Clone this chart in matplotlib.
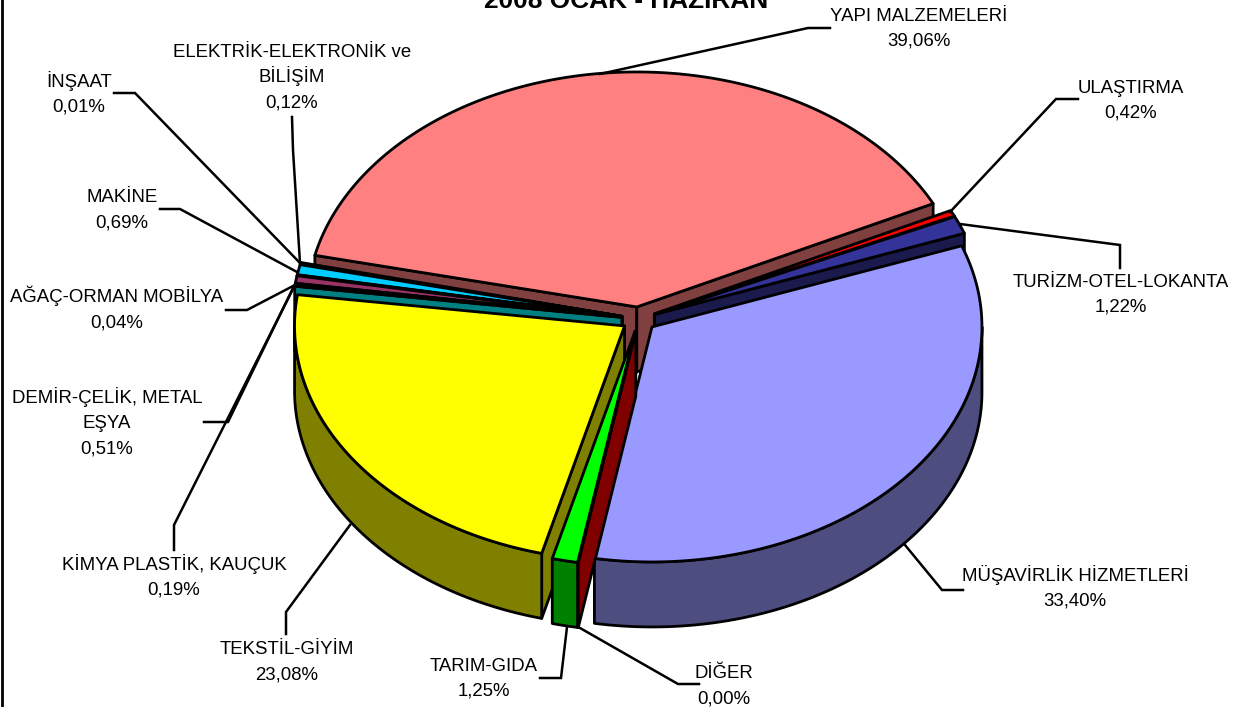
import numpy as np
import matplotlib
matplotlib.use("Agg")
import matplotlib.pyplot as plt
from matplotlib.patches import Polygon

plt.rcParams['font.family'] = ['Liberation Sans', 'DejaVu Sans']

# ---- data -------------------------------------------------------------
title = "2008 OCAK - HAZİRAN"
sectors = ["YAPI MALZEMELERİ", "ULAŞTIRMA", "TURİZM-OTEL-LOKANTA", "MÜŞAVİRLİK HİZMETLERİ",
           "DİĞER", "TARIM-GIDA", "TEKSTİL-GİYİM", "KİMYA PLASTİK, KAUÇUK",
           "DEMİR-ÇELİK, METAL\nEŞYA", "AĞAÇ-ORMAN MOBİLYA", "MAKİNE", "İNŞAAT",
           "ELEKTRİK-ELEKTRONİK ve\nBİLİŞİM"]
shares = [39.06, 0.42, 1.22, 33.40, 0.00, 1.25, 23.08, 0.19, 0.51, 0.04, 0.69, 0.01, 0.12]

# ---- style ------------------------------------------------------------
top_colors = ["#FF8080", "#FF0000", "#333399", "#9999FF", "#FF0000", "#00FF00", "#FFFF00",
              "#00FFFF", "#993366", "#000080", "#00CCFF", "#000000", "#000000"]
wall_colors = ["#804040", "#800000", "#1A1A4D", "#4D4D80", "#800000", "#008000", "#808000",
               "#008080", "#4D1A33", "#000040", "#006680", "#000000", "#000000"]
label_pos = [(919, 27.5), (1131, 99.5), (1120.5, 293.5), (1075, 587.5), (724, 684.5), (484, 677.5),
             (287, 660.5), (174, 576), (107, 422), (117, 309), (122, 208.5), (79, 93.5), (292, 76)]
leaders = [[(830, 28), (808, 28), (600, 74)],
           [(1078, 99), (1056, 99), (950, 212)],
           [(1120, 268), (1120, 245), (960, 224)],
           [(963, 590), (942, 590), (905, 545)],
           [(699, 684), (678, 684), (580, 628)],
           [(540, 678), (561, 678), (567, 627)],
           [(286, 634), (286, 612), (350, 525)],
           [(174, 550), (174, 525), (295, 285)],
           [(204, 422), (228, 422), (293, 288)],
           [(226, 310), (247, 310), (295, 285)],
           [(160, 209), (180, 209), (297, 272)],
           [(114, 93), (135, 93), (300, 263)],
           [(292, 117), (293, 150), (300, 263)]]
CX, CY = 638.8, 319.1      # pie centre in pixels
RX, RY = 330.0, 235.0      # ellipse radii of the tilted top face
DEPTH = 65.0               # wall height
EXPLODE = 0.052            # radial explosion
START = -77.3              # clockwise from 12 o'clock
FIRST_SWEEP = 141.2        # drawn sweep of the largest slice (projection widens it)
LW = 2.0
LINE_STEP = 25             # label line pitch in pixels

fig = plt.figure(figsize=(12.44, 7.07), dpi=100)
ax = fig.add_axes([0, 0, 1, 1])
ax.set_xlim(0, 1244)
ax.set_ylim(707, 0)
ax.axis('off')

sw = np.array(shares) * 3.6
sw[0] = FIRST_SWEEP
edges = START + np.concatenate([[0], np.cumsum(sw)])


def pt(t, apex, dz=0.0):
    t = np.radians(t)
    return apex[0] + RX * np.sin(t), apex[1] - RY * np.cos(t) + dz


def poly(pts, fc, z):
    ax.add_patch(Polygon(pts, closed=True, facecolor=fc, edgecolor='black', lw=LW,
                         joinstyle='round', zorder=z))


# painter's order: back slice, then both flanks working forwards, the front last
order = [0, 12, 11, 1, 10, 2, 9, 8, 7, 3, 6, 5, 4]
for z, i in enumerate(order):
    t0, t1 = edges[i], edges[i + 1]
    mid = np.radians((t0 + t1) / 2)
    apex = (CX + EXPLODE * RX * np.sin(mid), CY - EXPLODE * RY * np.cos(mid))
    a_bot = (apex[0], apex[1] + DEPTH)
    z0 = 10 + z
    # a radial cut face shows only when its normal points towards the viewer
    if np.sin(np.radians(t0)) < 0:
        p0 = pt(t0, apex)
        poly([apex, p0, (p0[0], p0[1] + DEPTH), a_bot], wall_colors[i], z0)
    if np.sin(np.radians(t1)) > 0:
        p1 = pt(t1, apex)
        poly([apex, p1, (p1[0], p1[1] + DEPTH), a_bot], wall_colors[i], z0)
    lo, hi = max(t0, 90), min(t1, 270)
    if hi > lo:
        ts = np.linspace(lo, hi, 120)
        up = [pt(t, apex) for t in ts]
        dn = [pt(t, apex, DEPTH) for t in ts[::-1]]
        poly(up + dn, wall_colors[i], z0)
    ts = np.linspace(t0, t1, max(int(sw[i] * 2), 2))
    poly([apex] + [pt(t, apex) for t in ts], top_colors[i], z0)

for path in leaders:
    xs, ys = zip(*path)
    ax.plot(xs, ys, color='black', lw=1.8, zorder=40, solid_joinstyle='miter')

for name, v, (x, y) in zip(sectors, shares, label_pos):
    lines = name.split("\n") + [f"{v:.2f}".replace('.', ',') + "%"]
    n = len(lines)
    for j, line in enumerate(lines):
        ax.text(x, y + 6 + (j - (n - 1) / 2) * LINE_STEP, line, ha='center', va='baseline',
                fontsize=13.45, color='black', zorder=50)

ax.text(626.5, 8, title, ha='center', va='baseline', fontsize=18.9, fontweight='bold', zorder=50)
ax.plot([1.5, 1.5], [0, 707], color='black', lw=2, zorder=60)

fig.savefig('out.png', dpi=100)
